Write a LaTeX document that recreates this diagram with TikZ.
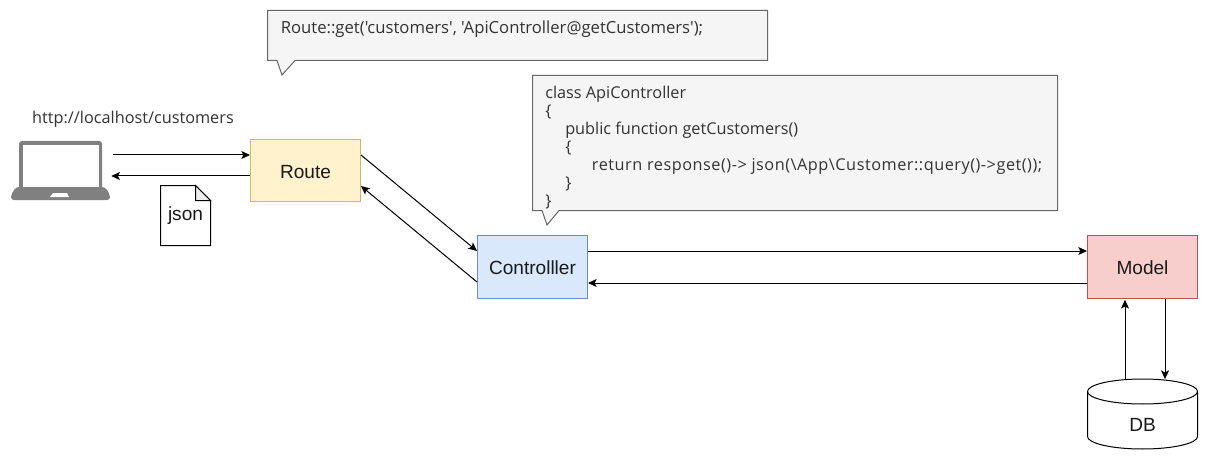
\documentclass[tikz,border=0pt]{standalone}
\usepackage{fontspec}
\setmainfont{Liberation Sans}
\newfontfamily\codefont{Open Sans}
\usetikzlibrary{arrows.meta,calc}
\definecolor{ink}{HTML}{1A1A1A}
\definecolor{codeink}{HTML}{333333}
\definecolor{calloutfill}{HTML}{F5F5F5}
\definecolor{calloutline}{HTML}{666666}
\definecolor{laptopgray}{HTML}{808080}
\definecolor{routeline}{HTML}{D6B656}
\definecolor{routefill}{HTML}{FFF2CC}
\definecolor{ctrlline}{HTML}{6C8EBF}
\definecolor{ctrlfill}{HTML}{DAE8FC}
\definecolor{modelline}{HTML}{B85450}
\definecolor{modelfill}{HTML}{F8CECC}
\tikzset{
  x=0.75pt, y=-0.75pt,
  flowbox/.style={draw, line width=0.75pt, minimum width=82.5pt, minimum height=47pt, inner sep=0pt, text height=11.8pt, text depth=0pt, font=\fontsize{14.3}{16}\selectfont, text=ink},
  flow/.style={-{Stealth[length=6.5pt,width=6pt,inset=1.5pt]}, line width=0.75pt, black},
  callout/.style={draw=calloutline, fill=calloutfill, line width=0.75pt},
  codetext/.style={anchor=north west, inner sep=0pt, align=left, text=codeink, font=\codefont\fontsize{12.2}{13.5}\selectfont},
  ghost/.style={inner sep=0pt, font=\fontsize{14.3}{16}\selectfont, text=ink},
}
\begin{document}
\begin{tikzpicture}
\useasboundingbox (0,0) rectangle (1208,460);
\fill[white] (0,0) rectangle (1208,460);

% callouts
\draw[callout] (267.5,10.5) -- (767.5,10.5) -- (767.5,60.5) -- (295,60.5) -- (282,75) -- (277,60.5) -- (267.5,60.5) -- cycle;
\node[codetext, font=\codefont\fontsize{12.5}{13.5}\selectfont] (routecode) at (280.5,20.5) {Route::get('customers', 'ApiController@getCustomers');};
\draw[callout] (532.5,75.5) -- (1057.5,75.5) -- (1057.5,210.5) -- (559,210.5) -- (547,225) -- (542,210.5) -- (532.5,210.5) -- cycle;
\node[codetext] (ctrlcode) at (545,85.5) {class ApiController\\
\{\\
\hspace{15pt}public function getCustomers()\\
\hspace{15pt}\{\\
\hspace{35pt}{\addfontfeature{LetterSpace=3.2}return response()-> json(\textbackslash App\textbackslash Customer::query()->get());}\\
\hspace{15pt}\}\\
\}};

% laptop
\fill[laptopgray, rounded corners=2.2pt] (19,141) rectangle (102,192);
\fill[white] (23,145) rectangle (99,187);
\fill[laptopgray, rounded corners=2.2pt] (16,187) -- (11,195) -- (11,200) -- (110,200) -- (110,195) -- (105,187) -- cycle;
\fill[white] (53,193) -- (67,193) -- (69,197) -- (50,197) -- cycle;
\node[inner sep=0pt, minimum width=74.25pt, minimum height=45pt] (laptop) at (60.5,170) {};
\node[inner sep=0pt, text=codeink, font=\codefont\fontsize{12.2}{13}\selectfont] (url) at (133,119.5) {http://localhost/customers};

% boxes
\node[flowbox, draw=routeline, fill=routefill] (route) at (305.5,170.5) {Route};
\node[flowbox, draw=ctrlline, fill=ctrlfill] (ctrl) at (532.5,267) {Controlller};
\node[flowbox, draw=modelline, fill=modelfill] (model) at (1142.5,267) {Model};

% json document
\draw[line width=0.75pt, fill=white] (160.5,185.5) -- (195.5,185.5) -- (210.5,200.5) -- (210.5,245.5) -- (160.5,245.5) -- cycle;
\draw[line width=0.75pt, fill=black!7] (195.5,185.5) -- (195.5,200.5) -- (210.5,200.5) -- cycle;
\node[ghost] (json) at (185.5,216) {json};

% database
\draw[line width=0.75pt, fill=white] (1087.5,391.5) -- (1087.5,436.5) arc[start angle=180, end angle=0, x radius=55, y radius=12.5] -- (1197.5,391.5) arc[start angle=0, end angle=-180, x radius=55, y radius=12.5] -- cycle;
\draw[line width=0.75pt] (1087.5,391.5) arc[start angle=180, end angle=0, x radius=55, y radius=12.5];
\node[ghost, minimum width=82.5pt, minimum height=52pt] (db) at (1142.5,414) {};
\node[ghost] (dblabel) at (1142.5,425) {DB};

% connectors
\draw[flow] ($(laptop.east)+(3,-15)$) -- ($(route.west)+(0,-15.5)$);
\draw[flow] ($(route.west)+(0,5.5)$) -- ($(laptop.east)+(1,6)$);
\draw[flow] ($(route.east)+(0,-15.5)$) -- ($(ctrl.west)+(0,-16)$);
\draw[flow] ($(ctrl.west)+(0,15)$) -- ($(route.east)+(0,15.5)$);
\draw[flow] ($(ctrl.east)+(0,-16)$) -- ($(model.west)+(0,-16)$);
\draw[flow] ($(model.west)+(0,16)$) -- ($(ctrl.east)+(0,16)$);
\draw[flow] ($(db.north)+(-17.5,0)$) -- ($(model.south)+(-17.5,1)$);
\draw[flow] ($(model.south)+(22.5,0)$) -- ($(db.north)+(22.5,0)$);
\end{tikzpicture}
\end{document}
